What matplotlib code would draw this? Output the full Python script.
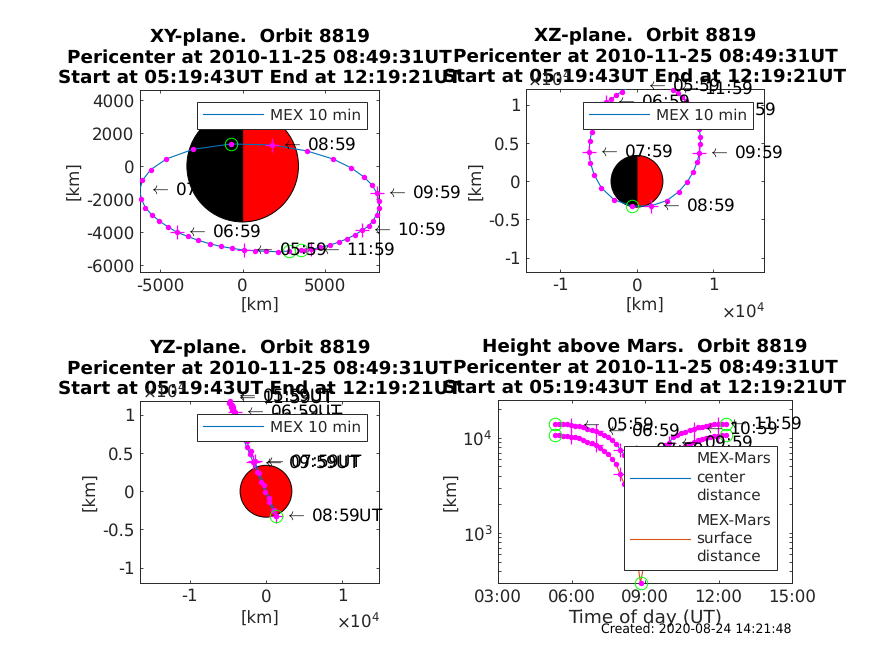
#MEX orbit overview: three planes and height above Mars
import numpy as np
import matplotlib
matplotlib.use('Agg')
import matplotlib.pyplot as plt
from matplotlib.patches import Wedge
from matplotlib.ticker import LogLocator, NullFormatter

plt.rcParams['text.hinting'] = 'none'

#10 min samples along the orbit
sample_times = ['05:19', '05:29', '05:39', '05:49', '05:59', '06:09', '06:19', '06:29', '06:39',
                '06:49', '06:59', '07:09', '07:19', '07:29', '07:39', '07:49', '07:59', '08:09',
                '08:19', '08:29', '08:39', '08:49', '08:59', '09:09', '09:19', '09:29', '09:39',
                '09:49', '09:59', '10:09', '10:19', '10:29', '10:39', '10:49', '10:59', '11:09',
                '11:19', '11:29', '11:39', '11:49', '11:59', '12:09', '12:19']

mex_x = [2815, 2146, 1438, 770, 61, -628, -1337, -2005, -2694, -3341, -3989, -4556, -5063, -5528,
         -5913, -6156, -6257, -6095, -5589, -4637, -3017, -709, 1802, 3908, 5488, 6602, 7371, 7877,
         8161, 8282, 8282, 8141, 7918, 7655, 7249, 6845, 6359, 5852, 5326, 4719, 4172, 3867, 3544]
mex_y = [-5151, -5192, -5171, -5131, -5090, -4989, -4868, -4706, -4505, -4262, -4020, -3676, -3333,
         -2949, -2525, -2000, -1475, -869, -222, 424, 1010, 1333, 1273, 909, 424, -121, -667, -1172,
         -1657, -2141, -2545, -2949, -3313, -3636, -3899, -4161, -4403, -4606, -4787, -4928, -5050,
         -5070, -5090]
mex_z = [12400, 12530, 12620, 12620, 12530, 12400, 12180, 11750, 11310, 10740, 10350, 9560, 8690,
         7600, 6510, 5280, 3890, 2450, 830, -870, -2400, -3275, -3230, -2530, -1350, -40, 1270,
         2530, 3760, 4890, 5850, 6810, 7820, 8690, 9350, 10130, 10570, 11000, 11530, 11970, 12180,
         12400, 12490]

center_dist = [14040, 14040, 13925, 13820, 13700, 13483, 13267, 12950, 12540, 12140, 11754, 11290,
               10670, 10163, 9450, 8717, 7538, 6676, 5650, 4737, 3985, 3688, 3900, 4700, 5650, 6600,
               7500, 8250, 8860, 10163, 10840, 11290, 11570, 12040, 12440, 12850, 13150, 13380,
               13590, 13820, 13925, 14000, 14040]
surface_dist = [10650, 10650, 10535, 10430, 10310, 10093, 9877, 9560, 9150, 8750, 8364, 7900, 7280,
                6773, 6060, 5327, 4148, 3286, 2260, 1347, 595, 298, 510, 1310, 2260, 3210, 4110,
                4860, 5470, 6773, 7450, 7900, 8180, 8650, 9050, 9460, 9760, 9990, 10200, 10430,
                10535, 10610, 10650]

hour_marks = [4, 10, 16, 22, 28, 34, 40]
hour_labels = ['05:59', '06:59', '07:59', '08:59', '09:59', '10:59', '11:59']
end_marks = [0, 21, 42]

mars_radius = 3390

title_tail = 'Pericenter at 2010-11-25 08:49:31UT\nStart at 05:19:43UT End at 12:19:21UT'
BLUE = '#0072BD'
ORANGE = '#D95319'
DARK = '#262626'
W, H = 874, 655


def px_axes(fig, left, top, right, bottom):
    return fig.add_axes([left / W, 1 - bottom / H, (right - left) / W, (bottom - top) / H])


def style_axes(ax):
    ax.tick_params(which='both', direction='in', top=True, right=True, length=2.2, width=0.6,
                   color=DARK, labelcolor=DARK, labelsize=12, pad=4)
    for spine in ax.spines.values():
        spine.set_linewidth(0.7)
        spine.set_color(DARK)


def draw_marks(ax, x, y):
    # Markers stay whole at the axes edge, only those outside the limits are dropped
    x = np.asarray(x, dtype=float)
    y = np.asarray(y, dtype=float)
    x0, x1 = ax.get_xlim()
    y0, y1 = ax.get_ylim()
    inside = (x >= x0) & (x <= x1) & (y >= y0) & (y <= y1)
    idx = np.arange(len(x))
    dots = idx[inside]
    plus = [i for i in hour_marks if inside[i]]
    ends = [i for i in end_marks if inside[i]]
    ax.plot(x[dots], y[dots], ls='none', marker='o', ms=3.9, color='#FF00FF', mew=0, clip_on=False, zorder=4)
    ax.plot(x[plus], y[plus], ls='none', marker='+', ms=10, color='#FF00FF', mew=0.9, clip_on=False, zorder=4)
    ax.plot(x[ends], y[ends], ls='none', marker='o', ms=9, mfc='none', color='#00FF00', mew=0.7,
            clip_on=False, zorder=4)


def draw_labels(ax, x, y, suffix='', under_mars=()):
    for i, label in zip(hour_marks, hour_labels):
        z = 1 if label in under_mars else 5
        ax.annotate(r'$\leftarrow$' + '\u2009' + label + suffix, (x[i], y[i]), xytext=(9, 0),
                    textcoords='offset pixels', va='center', ha='left', fontsize=12.2, color='black',
                    math_fontfamily='cm', annotation_clip=False, zorder=z)


def orbit_panel(ax, x, y, xlim, ylim, legend_box, title, half_dark=True, suffix='', under_mars=(), xpad=3):
    ax.set_xlim(xlim)
    ax.set_ylim(ylim)
    if half_dark:
        ax.add_patch(Wedge((0, 0), mars_radius, 90, 270, fc='black', ec='black', lw=0.7, zorder=2))
        ax.add_patch(Wedge((0, 0), mars_radius, -90, 90, fc='red', ec='black', lw=0.7, zorder=2))
    else:
        ax.add_patch(Wedge((0, 0), mars_radius, 0, 360, fc='red', ec='black', lw=0.7, zorder=2))
    ax.plot(x, y, color=BLUE, lw=0.8, zorder=3, label='MEX 10 min')
    draw_marks(ax, x, y)
    draw_labels(ax, x, y, suffix, under_mars)
    ax.set_title(title + '\n' + title_tail, fontsize=13.2, fontweight='bold', pad=5)
    ax.set_xlabel('[km]', fontsize=12, color=DARK, labelpad=xpad)
    ax.set_ylabel('[km]', fontsize=12, color=DARK, labelpad=2)
    style_axes(ax)
    add_legend(ax, legend_box)


def add_legend(ax, legend_box):
    left, top = legend_box
    leg = ax.legend(loc='upper left', bbox_to_anchor=(left / W, 1 - top / H), bbox_transform=ax.figure.transFigure,
                    fontsize=11, frameon=True, fancybox=False, framealpha=1, edgecolor=DARK, borderaxespad=0,
                    handlelength=3.9, handletextpad=0.45, borderpad=0.4, labelspacing=0.75)
    leg.get_frame().set_linewidth(0.7)
    leg.set_zorder(10)
    for text in leg.get_texts():
        text.set_color(DARK)
        text.set_linespacing(1.3)


fig = plt.figure(figsize=(W / 100, H / 100), dpi=100)

# XY plane
ax1 = px_axes(fig, 140, 90, 379, 272)
orbit_panel(ax1, mex_x, mex_y, (-6240, 8285), (-6420, 4600), (197, 102), 'XY-plane.  Orbit 8819',
            under_mars=('07:59',))
ax1.set_xticks([-5000, 0, 5000])
ax1.set_yticks([-6000, -4000, -2000, 0, 2000, 4000])
ax1.set_xticklabels(['-5000', '0', '5000'])
ax1.set_yticklabels(['-6000', '-4000', '-2000', '0', '2000', '4000'])

# XZ plane
ax2 = px_axes(fig, 526, 89, 764, 272)
orbit_panel(ax2, mex_x, mex_z, (-14500, 16600), (-11900, 12100), (583, 102), 'XZ-plane.  Orbit 8819')
ax2.set_xticks([-10000, 0, 10000])
ax2.set_xticklabels(['-1', '0', '1'])
ax2.set_yticks([-10000, -5000, 0, 5000, 10000])
ax2.set_yticklabels(['-1', '-0.5', '0', '0.5', '1'])

# YZ plane
ax3 = px_axes(fig, 140, 401, 379, 583)
orbit_panel(ax3, mex_y, mex_z, (-16500, 14800), (-12000, 11800), (197, 414), 'YZ-plane.  Orbit 8819',
            half_dark=False, suffix='UT', xpad=4.5)
ax3.set_xticks([-10000, 0, 10000])
ax3.set_xticklabels(['-1', '0', '1'])
ax3.set_yticks([-10000, -5000, 0, 5000, 10000])
ax3.set_yticklabels(['-1', '-0.5', '0', '0.5', '1'])

# Exponents that go with the shortened tick labels
for px, py in [(527, 79), (721, 311), (142, 391), (336, 621)]:
    fig.text(px / W, 1 - py / H, r'$\times10^{4}$', fontsize=12, color=DARK, va='center', ha='left')

# Height above Mars
hours = [int(t[:2]) + int(t[3:]) / 60 for t in sample_times]
ax4 = px_axes(fig, 498, 400, 792, 583)
ax4.set_yscale('log')
ax4.set_xlim(3, 15)
ax4.set_ylim(298, 25000)
ax4.plot(hours, center_dist, color=BLUE, lw=0.8, zorder=3, label='MEX-Mars\ncenter\ndistance')
ax4.plot(hours, surface_dist, color=ORANGE, lw=0.8, zorder=3, label='MEX-Mars\nsurface\ndistance')
draw_marks(ax4, hours, center_dist)
draw_marks(ax4, hours, surface_dist)
draw_labels(ax4, hours, center_dist)
ax4.set_xticks([3, 6, 9, 12, 15])
ax4.set_xticklabels(['03:00', '06:00', '09:00', '12:00', '15:00'])
ax4.yaxis.set_major_locator(LogLocator(base=10, numticks=6))
ax4.yaxis.set_minor_locator(LogLocator(base=10, subs=np.arange(2, 10), numticks=12))
ax4.yaxis.set_minor_formatter(NullFormatter())
ax4.set_title('Height above Mars.  Orbit 8819\n' + title_tail, fontsize=13.2, fontweight='bold', pad=5)
ax4.set_xlabel('Time of day (UT)', fontsize=13.3, color=DARK, labelpad=3.5)
ax4.set_ylabel('[km]', fontsize=12, color=DARK, labelpad=2)
style_axes(ax4)
add_legend(ax4, (624, 446))

fig.text(791 / W, 1 - 630.5 / H, 'Created: 2020-08-24 14:21:48', fontsize=9, color='black', ha='right', va='center')

fig.savefig('out.png', dpi=100)
